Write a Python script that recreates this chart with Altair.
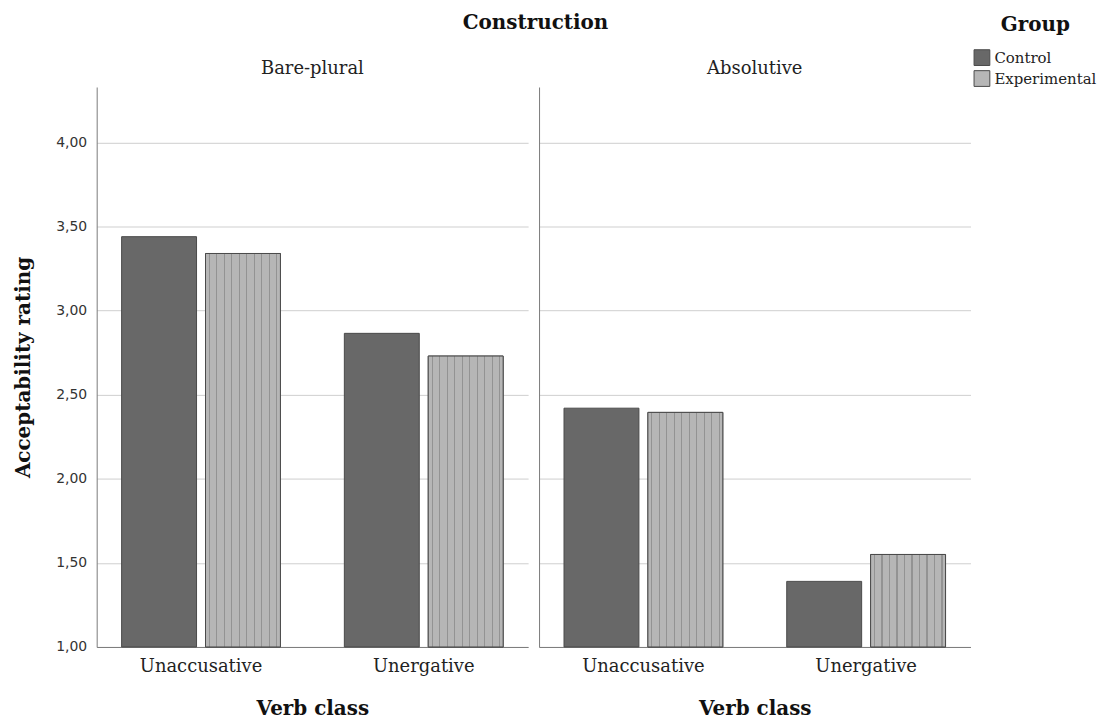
import altair as alt
import pandas as pd

constructions = ["Bare-plural", "Absolutive"]
verb_classes = ["Unaccusative", "Unergative"]
groups = ["Control", "Experimental"]

construction_col = ["Bare-plural"] * 4 + ["Absolutive"] * 4
verb_col = ["Unaccusative", "Unaccusative", "Unergative", "Unergative"] * 2
group_col = ["Control", "Experimental"] * 4
ratings = [3.44, 3.34, 2.865, 2.73, 2.42, 2.395, 1.39, 1.55]

df = pd.DataFrame({
    "Construction": construction_col,
    "Verb class": verb_col,
    "Group": group_col,
    "Rating": ratings,
})

SERIF = "DejaVu Serif"
SANS = "DejaVu Sans"
DARK_BAR = "#686868"
LIGHT_BAR = "#b6b6b6"

light = LIGHT_BAR
dot = "#939393"
stops = [{"offset": 0, "color": light}]
for i in range(10):
    a = 0.045 + i * 0.1
    b = a + 0.015
    stops += [
        {"offset": a, "color": light},
        {"offset": a, "color": dot},
        {"offset": b, "color": dot},
        {"offset": b, "color": light},
    ]
stops.append({"offset": 1, "color": light})
gradient = {"gradient": "linear", "x1": 0, "y1": 0, "x2": 1, "y2": 0, "stops": stops}


def panel(name, first):
    yaxis = alt.Axis(
        title="Acceptability rating" if first else None,
        values=[1, 1.5, 2, 2.5, 3, 3.5, 4],
        labelExpr="replace(format(datum.value, '.2f'), '.', ',')",
        labels=first,
        ticks=False,
        grid=True,
        gridColor="#cfcfcf",
        domainColor="#7a7a7a",
        labelFont=SANS,
        labelFontSize=14,
        labelColor="#333",
        labelPadding=10,
        titleFont=SERIF,
        titleFontSize=20,
        titleFontWeight="bold",
        titleColor="#111",
        titlePadding=22,
    )
    x = alt.X(
        "Verb class:N",
        sort=verb_classes,
        scale=alt.Scale(paddingInner=0.287, paddingOuter=0.112),
        axis=alt.Axis(
            title="Verb class",
            labelAngle=0,
            ticks=False,
            domainColor="#7a7a7a",
            labelFont=SERIF,
            labelFontSize=18,
            labelColor="#222",
            labelPadding=11,
            titleFont=SERIF,
            titleFontSize=20,
            titleFontWeight="bold",
            titleColor="#111",
            titlePadding=23,
        ),
    )
    xo = alt.XOffset("Group:N", sort=groups, scale=alt.Scale(domain=groups, paddingInner=0.107))
    y = alt.Y("Rating:Q", scale=alt.Scale(domain=[1, 4.33], nice=False, zero=False), axis=yaxis)

    base = alt.Chart(df).transform_filter(alt.datum.Construction == name)
    bars = base.mark_bar(stroke="#4a4a4a", strokeWidth=1).encode(
        x=x,
        xOffset=xo,
        y=y,
        y2=alt.datum(1),
        fill=alt.Fill(
            "Group:N",
            sort=groups,
            scale=alt.Scale(domain=groups, range=[DARK_BAR, LIGHT_BAR]),
            legend=alt.Legend(
                title="Group",
                orient="none",
                legendX=880,
                legendY=-72,
                titleAnchor="middle",
                titleAlign="center",
                symbolType="square",
                symbolSize=250,
                symbolStrokeColor="#4a4a4a",
                symbolStrokeWidth=1,
                titleFont=SERIF,
                titleFontSize=20,
                titleFontWeight="bold",
                titleColor="#111",
                titlePadding=14,
                labelFont=SERIF,
                labelFontSize=15,
                labelColor="#222",
                rowPadding=0,
                labelOffset=4,
            ),
        ),
    )
    stripes = (
        base.transform_filter(alt.datum.Group == "Experimental")
        .mark_bar(fill=gradient, stroke="#4a4a4a", strokeWidth=1)
        .encode(x=x, xOffset=xo, y=y, y2=alt.datum(1))
    )
    return alt.layer(bars, stripes).properties(
        width=433,
        height=562,
        title=alt.TitleParams(
            name, font=SERIF, fontSize=18, fontWeight="normal", color="#222", offset=9
        ),
    )


chart = (
    alt.hconcat(panel("Bare-plural", True), panel("Absolutive", False), spacing=11)
    .resolve_scale(fill="shared")
    .resolve_legend(fill="shared")
    .properties(
        title=alt.TitleParams(
            "Construction", font=SERIF, fontSize=20, fontWeight="bold", color="#111",
            anchor="middle", offset=0, dy=18, dx=-20
        ),
        padding={"left": 5, "top": 4, "right": 5, "bottom": 0},
    )
    .configure_view(stroke=None)
)

chart.save("out.html", embed_options={"renderer": "svg", "actions": False})
